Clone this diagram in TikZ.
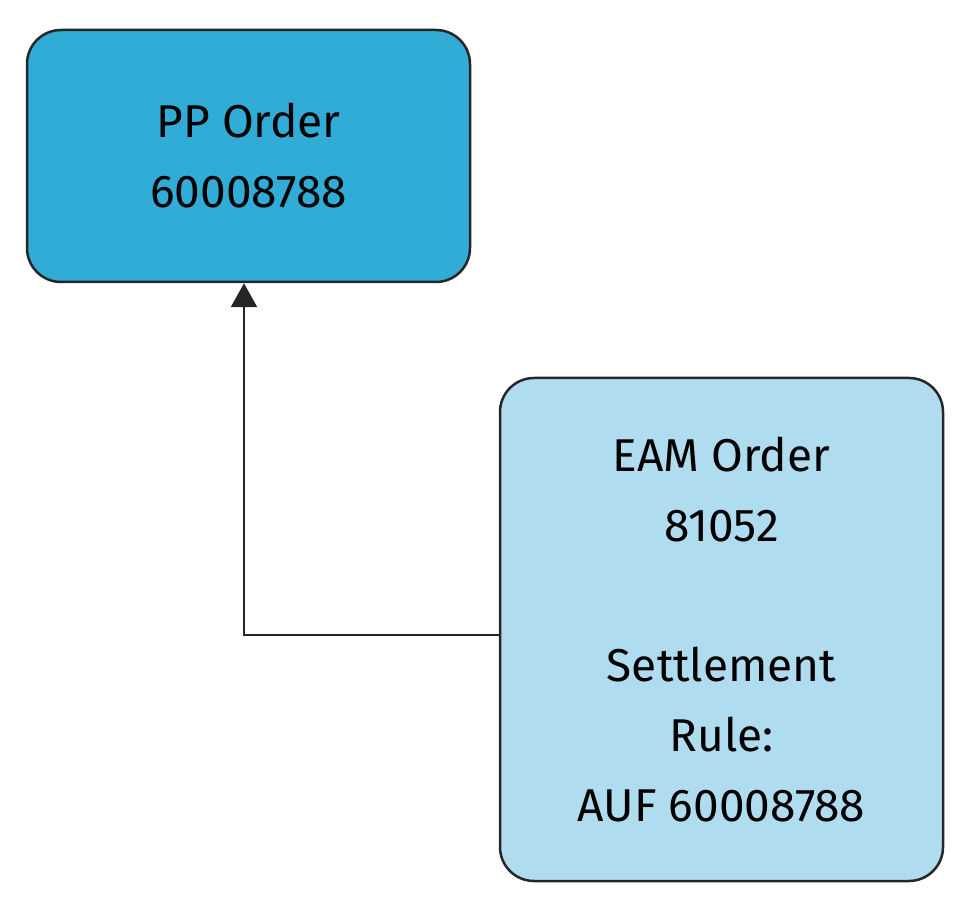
\documentclass[tikz,border=0pt]{standalone}
\usepackage{fontspec}
\setmainfont{Fira Sans}
\usetikzlibrary{arrows.meta}
\definecolor{dark}{HTML}{30ACD6}
\definecolor{light}{HTML}{B0DCEF}
\begin{document}
\begin{tikzpicture}[x=1pt,y=1pt,
  box/.style={draw=black!85,line width=2.5pt,rounded corners=34pt,align=center,
    font=\fontsize{46}{70}\selectfont,inner sep=0pt}]
\useasboundingbox (0,0) rectangle (969,908);
\node[box,fill=dark,minimum width=443pt,minimum height=252pt] (pp) at (248.5,752) {PP Order\\60008788};
\node[box,fill=light,minimum width=443pt,minimum height=503pt] (eam) at (721.5,278.5) {EAM Order\\81052\\[70pt]Settlement\\Rule:\\AUF 60008788};
\draw[line width=2.5pt,black!85,-{Triangle[length=24pt,width=26pt]}] (eam.west|-0,273) -| (244,0|-pp.south);
\end{tikzpicture}
\end{document}
